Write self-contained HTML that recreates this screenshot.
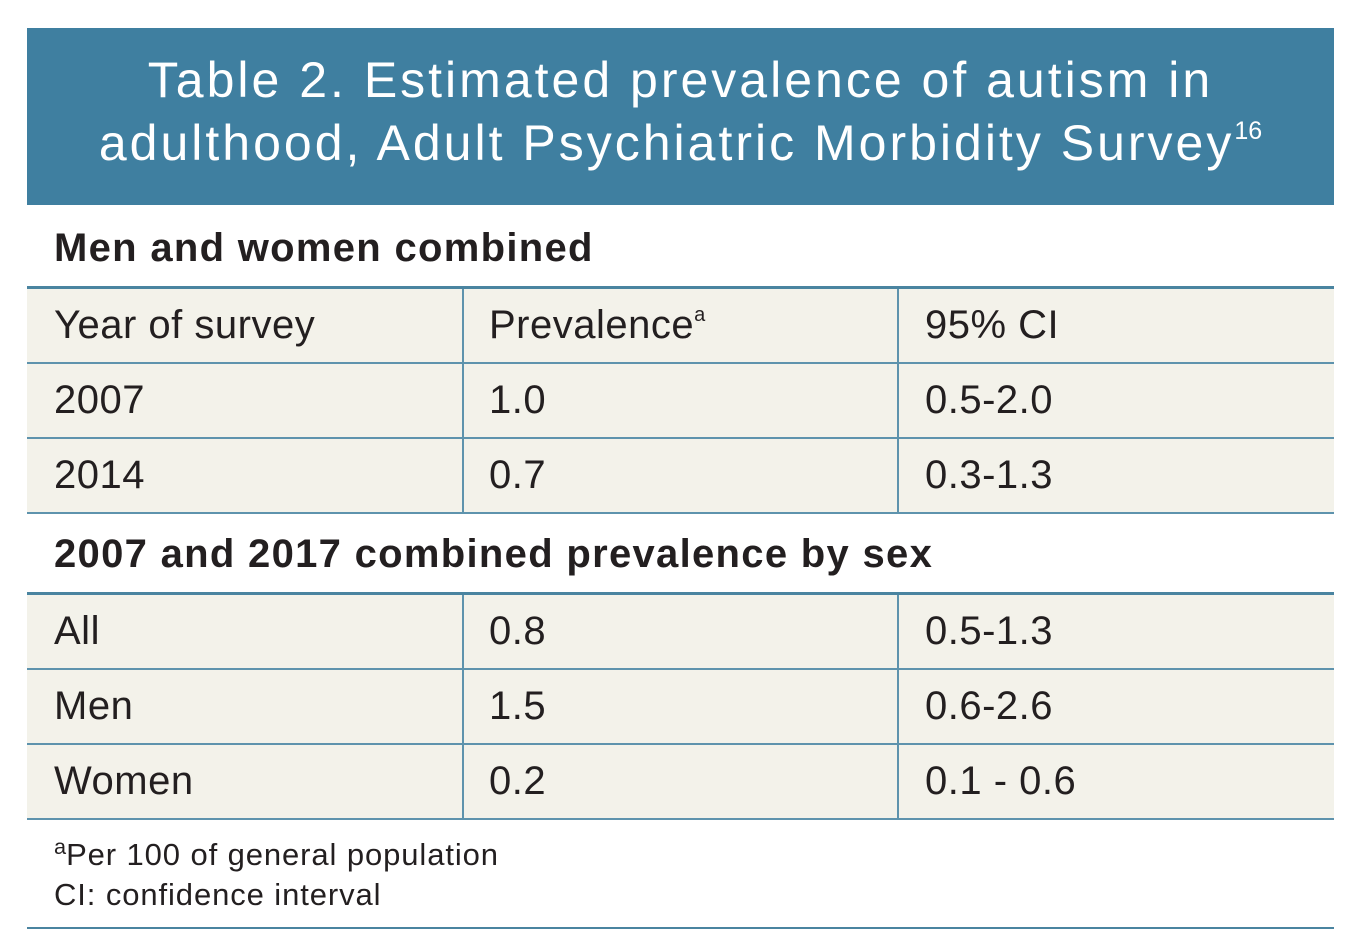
<!DOCTYPE html>
<html><head><meta charset="utf-8">
<style>
body{margin:0;width:1359px;height:950px;background:#fff;position:relative;overflow:hidden;font-family:"Liberation Sans",Arial,sans-serif;color:#231f20}
.abs{position:absolute}
.hdr{left:27px;top:28px;width:1307px;height:177px;background:#3f7fa0;color:#fff;text-align:center;font-size:50px;line-height:63px;letter-spacing:3px}
.hdr .inner{padding-top:21px}
.sec{left:54px;font-weight:bold;font-size:40px;line-height:40px;letter-spacing:1.3px}
.tbl{left:27px;width:1307px;background:#f3f2ea;border-top:3px solid #4a84a0}
.row{position:relative;height:73px;border-bottom:2px solid #5e93ad;font-size:40px;letter-spacing:0.5px}
.cell{position:absolute;top:0;height:73px;line-height:73px}
.c1{left:27px}.c2{left:462px}.c3{left:898px}
.vl{position:absolute;top:0;bottom:0;width:2px;background:#5e93ad}
sup{font-size:0.5em;vertical-align:0;position:relative;top:-0.85em;letter-spacing:0}
.fn{left:54px;font-size:31px;line-height:40px;letter-spacing:0.9px}
.fn sup{font-size:0.7em;top:-0.5em}
</style></head><body>
<div class="abs hdr"><div class="inner"><span>Table 2.</span> Estimated prevalence of autism in<br>adulthood, Adult Psychiatric Morbidity Survey<sup>16</sup></div></div>

<div class="abs sec" style="top:228px">Men and women combined</div>
<div class="abs tbl" style="top:286px">
 <div class="vl" style="left:435px"></div><div class="vl" style="left:870px"></div>
 <div class="row"><div class="cell c1">Year of survey</div><div class="cell c2">Prevalence<sup>a</sup></div><div class="cell c3">95% CI</div></div>
 <div class="row"><div class="cell c1">2007</div><div class="cell c2">1.0</div><div class="cell c3">0.5-2.0</div></div>
 <div class="row"><div class="cell c1">2014</div><div class="cell c2">0.7</div><div class="cell c3">0.3-1.3</div></div>
</div>

<div class="abs sec" style="top:534px">2007 and 2017 combined prevalence by sex</div>
<div class="abs tbl" style="top:592px">
 <div class="vl" style="left:435px"></div><div class="vl" style="left:870px"></div>
 <div class="row"><div class="cell c1">All</div><div class="cell c2">0.8</div><div class="cell c3">0.5-1.3</div></div>
 <div class="row"><div class="cell c1">Men</div><div class="cell c2">1.5</div><div class="cell c3">0.6-2.6</div></div>
 <div class="row"><div class="cell c1">Women</div><div class="cell c2">0.2</div><div class="cell c3">0.1 - 0.6</div></div>
</div>

<div class="abs fn" style="top:835px"><sup>a</sup>Per 100 of general population</div>
<div class="abs fn" style="top:875px">CI: confidence interval</div>
<div class="abs" style="left:27px;top:927px;width:1307px;height:2px;background:#4a84a0"></div>
</body></html>
